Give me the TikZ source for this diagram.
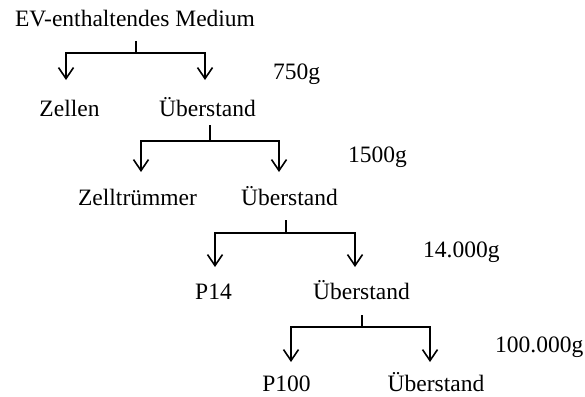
\documentclass[tikz,border=0pt]{standalone}
\usepackage{fontspec}
\setmainfont{Liberation Serif}
\usetikzlibrary{arrows.meta}
\begin{document}
\begin{tikzpicture}[x=1pt,y=1pt,
  lbl/.style={font=\fontsize{23.5}{28}\selectfont, inner sep=0pt, anchor=base},
  glbl/.style={lbl, anchor=base west},
  ln/.style={line width=1.8pt, line join=miter},
  barb/.tip={Straight Barb[length=11pt,width=15pt,line width=1.6pt]},
  split/.style={ln, barb-barb}]
\useasboundingbox (0,0) rectangle (585,-396);
% nodes
\node[lbl] (title) at (135,-27) {EV-enthaltendes Medium};
\node[lbl] (zellen) at (69.5,-116) {Zellen};
\node[lbl] (ub1) at (207.5,-116) {Überstand};
\node[lbl] (zt) at (137.5,-205) {Zelltrümmer};
\node[lbl] (ub2) at (289.5,-205) {Überstand};
\node[lbl] (p14) at (213.5,-299) {P14};
\node[lbl] (ub3) at (361.5,-299) {Überstand};
\node[lbl] (p100) at (286.5,-391) {P100};
\node[lbl] (ub4) at (436,-391) {Überstand};
% g labels
\node[glbl] (g1) at (273,-79) {750g};
\node[glbl] (g2) at (348,-162) {1500g};
\node[glbl] (g3) at (423,-257) {14.000g};
\node[glbl] (g4) at (495,-352) {100.000g};
% junctions
\coordinate (s1) at (136,-41);  \coordinate (j1) at (136,-53);
\coordinate (a1) at (66,-80);   \coordinate (b1) at (205,-80);
\coordinate (s2) at (210,-125); \coordinate (j2) at (210,-141);
\coordinate (a2) at (141,-172); \coordinate (b2) at (279,-172);
\coordinate (s3) at (286,-220); \coordinate (j3) at (286,-233);
\coordinate (a3) at (215,-267); \coordinate (b3) at (355,-267);
\coordinate (s4) at (362,-315); \coordinate (j4) at (362,-327);
\coordinate (a4) at (291,-362); \coordinate (b4) at (430,-362);
% connectors
\draw[ln] (s1) -- (j1);
\draw[split] (a1) |- (j1) -| (b1);
\draw[ln] (s2) -- (j2);
\draw[split] (a2) |- (j2) -| (b2);
\draw[ln] (s3) -- (j3);
\draw[split] (a3) |- (j3) -| (b3);
\draw[ln] (s4) -- (j4);
\draw[split] (a4) |- (j4) -| (b4);
\end{tikzpicture}
\end{document}
